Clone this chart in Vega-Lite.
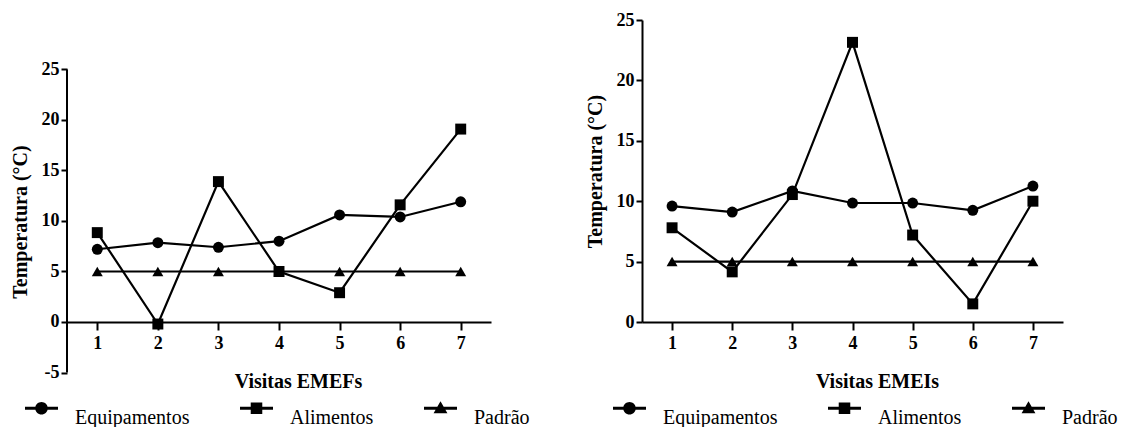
{
  "$schema": "https://vega.github.io/schema/vega-lite/v6.json",
  "background": "white",
  "padding": {"left": 10, "top": 11, "right": 0, "bottom": 0},
  "spacing": 55,
  "datasets": {
    "emef": [
      {"visita": 1, "serie": "Equipamentos", "temp": 7.2},
      {"visita": 2, "serie": "Equipamentos", "temp": 7.85},
      {"visita": 3, "serie": "Equipamentos", "temp": 7.4},
      {"visita": 4, "serie": "Equipamentos", "temp": 8.0},
      {"visita": 5, "serie": "Equipamentos", "temp": 10.6},
      {"visita": 6, "serie": "Equipamentos", "temp": 10.4},
      {"visita": 7, "serie": "Equipamentos", "temp": 11.9},
      {"visita": 1, "serie": "Alimentos", "temp": 8.85},
      {"visita": 2, "serie": "Alimentos", "temp": -0.2},
      {"visita": 3, "serie": "Alimentos", "temp": 13.9},
      {"visita": 4, "serie": "Alimentos", "temp": 5.0},
      {"visita": 5, "serie": "Alimentos", "temp": 2.9},
      {"visita": 6, "serie": "Alimentos", "temp": 11.6},
      {"visita": 7, "serie": "Alimentos", "temp": 19.1},
      {"visita": 1, "serie": "Padrão", "temp": 5},
      {"visita": 2, "serie": "Padrão", "temp": 5},
      {"visita": 3, "serie": "Padrão", "temp": 5},
      {"visita": 4, "serie": "Padrão", "temp": 5},
      {"visita": 5, "serie": "Padrão", "temp": 5},
      {"visita": 6, "serie": "Padrão", "temp": 5},
      {"visita": 7, "serie": "Padrão", "temp": 5}
    ],
    "emei": [
      {"visita": 1, "serie": "Equipamentos", "temp": 9.6},
      {"visita": 2, "serie": "Equipamentos", "temp": 9.1},
      {"visita": 3, "serie": "Equipamentos", "temp": 10.85},
      {"visita": 4, "serie": "Equipamentos", "temp": 9.85},
      {"visita": 5, "serie": "Equipamentos", "temp": 9.85},
      {"visita": 6, "serie": "Equipamentos", "temp": 9.25},
      {"visita": 7, "serie": "Equipamentos", "temp": 11.25},
      {"visita": 1, "serie": "Alimentos", "temp": 7.8},
      {"visita": 2, "serie": "Alimentos", "temp": 4.15},
      {"visita": 3, "serie": "Alimentos", "temp": 10.55},
      {"visita": 4, "serie": "Alimentos", "temp": 23.15},
      {"visita": 5, "serie": "Alimentos", "temp": 7.2},
      {"visita": 6, "serie": "Alimentos", "temp": 1.5},
      {"visita": 7, "serie": "Alimentos", "temp": 10.0},
      {"visita": 1, "serie": "Padrão", "temp": 5},
      {"visita": 2, "serie": "Padrão", "temp": 5},
      {"visita": 3, "serie": "Padrão", "temp": 5},
      {"visita": 4, "serie": "Padrão", "temp": 5},
      {"visita": 5, "serie": "Padrão", "temp": 5},
      {"visita": 6, "serie": "Padrão", "temp": 5},
      {"visita": 7, "serie": "Padrão", "temp": 5}
    ]
  },
  "config": {
    "view": {"stroke": null},
    "font": "Liberation Serif, Times New Roman, serif",
    "axis": {
      "domainColor": "black", "domainWidth": 2, "tickColor": "black", "tickWidth": 2,
      "labelFont": "Liberation Serif, Times New Roman, serif", "labelFontWeight": "bold", "labelFontSize": 18, "labelColor": "black",
      "titleFont": "Liberation Serif, Times New Roman, serif", "titleFontWeight": "bold", "titleFontSize": 20, "titleColor": "black",
      "grid": false
    },
    "legend": {
      "orient": "none", "direction": "horizontal", "padding": 0,
      "symbolSize": 1089, "symbolFillColor": "black", "symbolStrokeWidth": 0,
      "labelFont": "Liberation Serif, Times New Roman, serif", "labelFontSize": 20, "labelColor": "black",
      "labelOffset": 17, "columnPadding": 50, "labelBaseline": "top", "labelLimit": 300
    }
  },
  "resolve": {
    "scale": {"x": "independent", "y": "independent", "shape": "independent"},
    "legend": {"shape": "independent"}
  },
  "hconcat": [
    {
      "width": 424,
      "height": 352.5,
      "resolve": {"scale": {"shape": "independent"}},
      "layer": [
        {
          "data": {"values": [{}]},
          "mark": {"type": "rule", "color": "black", "strokeWidth": 2},
          "encoding": {
            "x": {"datum": 0.5, "type": "quantitative"},
            "y": {"datum": -5, "type": "quantitative"},
            "y2": {"datum": 25}
          }
        },
        {
          "data": {"name": "emef"},
          "mark": {"type": "line", "color": "black", "strokeWidth": 2.2},
          "encoding": {
            "x": {"field": "visita", "type": "quantitative",
              "scale": {"domain": [0.5, 7.5], "nice": false, "zero": false},
              "axis": {"values": [1, 2, 3, 4, 5, 6, 7], "format": "d", "title": "Visitas EMEFs",
                "offset": -50.5, "tickSize": 8, "labelPadding": 4, "titlePadding": 19,
                "titleX": 231, "titleAlign": "center"}},
            "y": {"field": "temp", "type": "quantitative",
              "scale": {"domain": [-5, 29.9], "nice": false, "zero": false},
              "axis": {"values": [-5, 0, 5, 10, 15, 20, 25], "labelExpr": "datum.value", "title": "Temperatura (°C)",
                "domain": false, "tickSize": 6, "labelPadding": 2, "titlePadding": 11, "titleY": 201.5}},
            "detail": {"field": "serie", "type": "nominal"}
          }
        },
        {
          "data": {"name": "emef"},
          "mark": {"type": "point", "filled": true, "color": "black", "opacity": 1, "size": 120},
          "encoding": {
            "x": {"field": "visita", "type": "quantitative"},
            "y": {"field": "temp", "type": "quantitative"},
            "shape": {"field": "serie", "type": "nominal",
              "scale": {"domain": ["Equipamentos", "Alimentos", "Padrão"], "range": ["circle", "square", "triangle-up"]},
              "legend": null}
          }
        },
        {
          "data": {"values": []},
          "mark": {"type": "point", "filled": true, "color": "black", "opacity": 1},
          "encoding": {
            "shape": {"field": "serie", "type": "nominal",
              "scale": {"domain": ["Equipamentos", "Alimentos", "Padrão"],
                "range": [
                  "M-1,-0.09H1V0.09H-1Z M-0.38,0A0.38,0.38 0 1,1 0.38,0A0.38,0.38 0 1,1 -0.38,0Z",
                  "M-1,-0.09H1V0.09H-1Z M-0.35,-0.35H0.35V0.35H-0.35Z",
                  "M-1,-0.09H1V0.09H-1Z M0,-0.42L0.42,0.3H-0.42Z"
                ]},
              "legend": {"title": null, "legendX": -42, "legendY": 371.5}}
          }
        }
      ]
    },
    {
      "width": 421,
      "height": 302,
      "resolve": {"scale": {"shape": "independent"}},
      "layer": [
        {
          "data": {"name": "emei"},
          "mark": {"type": "line", "color": "black", "strokeWidth": 2.2},
          "encoding": {
            "x": {"field": "visita", "type": "quantitative",
              "scale": {"domain": [0.5, 7.5], "nice": false, "zero": false},
              "axis": {"values": [1, 2, 3, 4, 5, 6, 7], "format": "d", "title": "Visitas EMEIs",
                "tickSize": 8, "labelPadding": 4, "titlePadding": 19,
                "titleX": 235, "titleAlign": "center"}},
            "y": {"field": "temp", "type": "quantitative",
              "scale": {"domain": [0, 25], "nice": false, "zero": false},
              "axis": {"values": [0, 5, 10, 15, 20, 25], "title": "Temperatura (°C)",
                "tickSize": 6, "labelPadding": 2, "titlePadding": 11}},
            "detail": {"field": "serie", "type": "nominal"}
          }
        },
        {
          "data": {"name": "emei"},
          "mark": {"type": "point", "filled": true, "color": "black", "opacity": 1, "size": 120},
          "encoding": {
            "x": {"field": "visita", "type": "quantitative"},
            "y": {"field": "temp", "type": "quantitative"},
            "shape": {"field": "serie", "type": "nominal",
              "scale": {"domain": ["Equipamentos", "Alimentos", "Padrão"], "range": ["circle", "square", "triangle-up"]},
              "legend": null}
          }
        },
        {
          "data": {"values": []},
          "mark": {"type": "point", "filled": true, "color": "black", "opacity": 1},
          "encoding": {
            "shape": {"field": "serie", "type": "nominal",
              "scale": {"domain": ["Equipamentos", "Alimentos", "Padrão"],
                "range": [
                  "M-1,-0.09H1V0.09H-1Z M-0.38,0A0.38,0.38 0 1,1 0.38,0A0.38,0.38 0 1,1 -0.38,0Z",
                  "M-1,-0.09H1V0.09H-1Z M-0.35,-0.35H0.35V0.35H-0.35Z",
                  "M-1,-0.09H1V0.09H-1Z M0,-0.42L0.42,0.3H-0.42Z"
                ]},
              "legend": {"title": null, "legendX": -29, "legendY": 371.5}}
          }
        }
      ]
    }
  ]
}
